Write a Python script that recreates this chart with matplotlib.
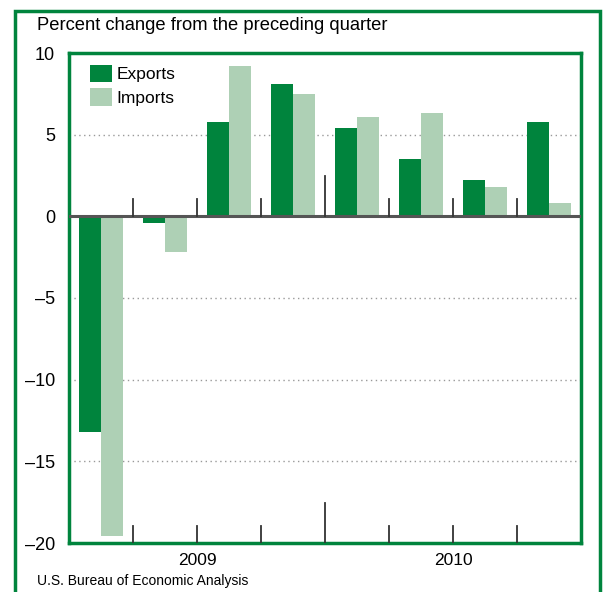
import numpy as np
import matplotlib.pyplot as plt
from matplotlib.patches import Rectangle

plt.rcParams['font.family'] = ['Liberation Sans', 'DejaVu Sans']

quarters = ['2009 Q1', '2009 Q2', '2009 Q3', '2009 Q4',
            '2010 Q1', '2010 Q2', '2010 Q3', '2010 Q4']
exports = [-13.2, -0.4, 5.8, 8.1, 5.4, 3.5, 2.2, 5.8]
imports = [-19.6, -2.2, 9.2, 7.5, 6.1, 6.3, 1.8, 0.8]
years = ['2009', '2010']
yticks = [10, 5, 0, -5, -10, -15, -20]

dkgreen = '#00843d'
ltgreen = '#aed0b5'

fig = plt.figure(figsize=(6.05, 5.92), dpi=100)

# outer green box
fig.patches.append(Rectangle((15/605, -0.05), 585/605, 1.05 - 11/592,
                             transform=fig.transFigure, fill=False,
                             edgecolor=dkgreen, lw=2.5))

ax = fig.add_axes([69/605, 49/592, 512/605, 490/592])
x = np.arange(len(quarters))
w = 0.34
ax.bar(x - w/2, exports, w, color=dkgreen, label='Exports', zorder=2)
ax.bar(x + w/2, imports, w, color=ltgreen, label='Imports', zorder=2)

ax.set_xlim(-0.5, 7.5)
ax.set_ylim(-20, 10)

for v in [5, -5, -10, -15]:
    ax.axhline(v, color='#999999', lw=1, ls=(0, (1, 2.5)), zorder=1)
ax.axhline(0, color='#555555', lw=2.2, zorder=3)

# quarter separators
for b in np.arange(0.5, 7.5, 1):
    h = 2.45 if b == 3.5 else 1.05
    ax.plot([b, b], [0, h], color='#333333', lw=1.3, zorder=3)
    ax.plot([b, b], [-20, -20 + h], color='#333333', lw=1.3, zorder=3)

for s in ax.spines.values():
    s.set_color(dkgreen)
    s.set_linewidth(2.5)

ax.set_yticks(yticks)
ax.set_yticklabels([str(t).replace('-', '\u2013') for t in yticks], fontsize=13)
ax.tick_params(axis='y', length=0, pad=10)
ax.set_xticks([1.5, 5.5])
ax.set_xticklabels(years, fontsize=12.5)
ax.tick_params(axis='x', length=0, pad=7)

leg = ax.legend(loc='upper left', bbox_to_anchor=(0.01, 1.008), frameon=False,
                fontsize=12.5, handlelength=1.3, handleheight=1.15,
                handletextpad=0.25, labelspacing=0.35)

fig.text(37/605, 1 - 26/592, 'Percent change from the preceding quarter',
         fontsize=13.2, va='center', ha='left')
fig.text(37/605, 1 - 581/592, 'U.S. Bureau of Economic Analysis',
         fontsize=10, va='center', ha='left')

fig.savefig('out.png', dpi=100)
